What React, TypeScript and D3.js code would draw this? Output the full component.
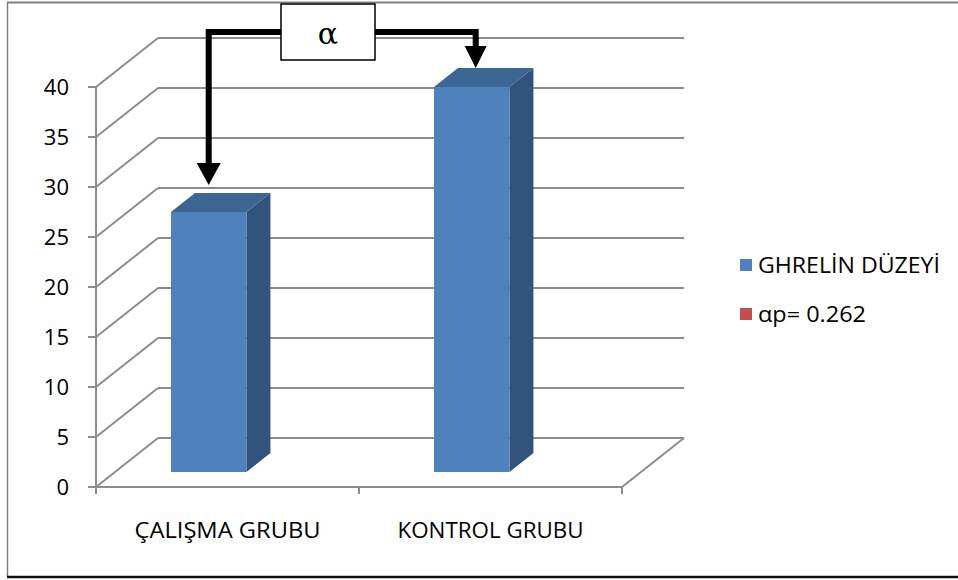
import React from 'react';
import * as d3 from 'd3';

// chart values
const categories = ['ÇALIŞMA GRUBU', 'KONTROL GRUBU'];
const ghrelinValues = [26, 38.5];
const yTicks = [0, 5, 10, 15, 20, 25, 30, 35, 40];
const legendLabels = ['GHRELİN DÜZEYİ', 'αp= 0.262'];
const legendColors = ['#4F81BD', '#C0504D'];
const annotationLabel = 'α';

const W = 958;
const H = 580;

// front plane of the plot
const x0 = 96, x1 = 622;
const y0 = 487, y1 = 87;
// depth of the floor / walls
const depthX = 62, depthY = -49;
// bar front plane offset & bar depth
const barLiftY = -15;
const barDX = 24, barDY = -19;

const x = d3.scaleBand<string>().domain(categories).range([x0, x1]);
const y = d3.scaleLinear().domain([0, 40]).range([y0, y1]);

const gridColor = '#8C8C8C';
const font = 'Open Sans, Noto Sans, sans-serif';

const App = () => {
  const bw = x.bandwidth();
  const bars = categories.map((c, i) => {
    const left = (x(c) as number) + bw * 0.285;
    const width = bw * 0.287;
    const top = y(ghrelinValues[i]) + barLiftY;
    const bottom = y(0) + barLiftY;
    return { c, left, width, top, bottom, cx: left + width / 2 };
  });

  const b1 = bars[0];
  const b2 = bars[1];
  const lineY = 32;
  const boxL = 281, boxR = 375, boxT = 4, boxB = 60;
  const tip1 = b1.top + barDY - 8;
  const tip2 = b2.top + barDY;
  const head = 22;

  return (
    <svg width={W} height={H} style={{ position: 'absolute', left: 0, top: 0 }}>
      <rect x={0} y={0} width={W} height={H} fill="#fff" />
      {/* outer border */}
      <line x1={7.5} y1={2} x2={7.5} y2={577} stroke="#7f7f7f" strokeWidth={1.5} />
      <line x1={7} y1={2.5} x2={W} y2={2.5} stroke="#7f7f7f" strokeWidth={2} />
      <line x1={7} y1={577} x2={W} y2={577} stroke="#111" strokeWidth={2.5} />

      {/* back wall gridlines and side wall diagonals */}
      {yTicks.map(t => (
        <g key={t}>
          <line x1={x0} y1={y(t)} x2={x0 + depthX} y2={y(t) + depthY} stroke={gridColor} strokeWidth={2} />
          <line x1={x0 + depthX} y1={y(t) + depthY} x2={x1 + depthX} y2={y(t) + depthY} stroke={gridColor} strokeWidth={2} />
          <line x1={x0 - 8} y1={y(t)} x2={x0} y2={y(t)} stroke={gridColor} strokeWidth={2} />
          <text x={x0 - 27} y={y(t) + 8} textAnchor="end" fontFamily={font} fontSize={22} fill="#000">{t}</text>
        </g>
      ))}
      {/* left axis */}
      <line x1={x0} y1={y(40)} x2={x0} y2={y0} stroke={gridColor} strokeWidth={2} />
      {/* floor */}
      <line x1={x0} y1={y0} x2={x1} y2={y0} stroke={gridColor} strokeWidth={2} />
      <line x1={x1} y1={y0} x2={x1 + depthX} y2={y0 + depthY} stroke={gridColor} strokeWidth={2} />
      {[x0, x0 + bw, x1].map((tx, i) => (
        <line key={i} x1={tx} y1={y0} x2={tx} y2={y0 + 7} stroke={gridColor} strokeWidth={2} />
      ))}
      {categories.map(c => (
        <text key={c} x={(x(c) as number) + bw / 2} y={538} textAnchor="middle" fontFamily={font} fontSize={21}
          textLength={186} lengthAdjust="spacingAndGlyphs" fill="#000">{c}</text>
      ))}

      {/* 3D bars */}
      {bars.map(b => (
        <g key={b.c}>
          <polygon
            points={`${b.left},${b.top} ${b.left + barDX},${b.top + barDY} ${b.left + b.width + barDX},${b.top + barDY} ${b.left + b.width},${b.top}`}
            fill="#3C6693"
          />
          <polygon
            points={`${b.left + b.width},${b.top} ${b.left + b.width + barDX},${b.top + barDY} ${b.left + b.width + barDX},${b.bottom + barDY} ${b.left + b.width},${b.bottom}`}
            fill="#31537C"
          />
          <rect x={b.left} y={b.top} width={b.width} height={b.bottom - b.top} fill="#4F81BD" />
        </g>
      ))}

      {/* annotation arrows */}
      <g stroke="#000" strokeWidth={6} fill="none">
        <polyline points={`${boxL},${lineY} ${b1.cx},${lineY} ${b1.cx},${tip1 - head + 1}`} />
        <polyline points={`${boxR},${lineY} ${b2.cx + 4},${lineY} ${b2.cx + 4},${tip2 - head + 1}`} />
      </g>
      <polygon points={`${b1.cx - 12},${tip1 - head} ${b1.cx + 12},${tip1 - head} ${b1.cx},${tip1}`} fill="#000" />
      <polygon points={`${b2.cx + 4 - 11},${tip2 - head} ${b2.cx + 4 + 11},${tip2 - head} ${b2.cx + 4},${tip2}`} fill="#000" />
      <rect x={boxL} y={boxT} width={boxR - boxL} height={boxB - boxT} fill="#fff" stroke="#000" strokeWidth={1.5} />
      <text x={(boxL + boxR) / 2} y={44} textAnchor="middle" fontFamily="DejaVu Serif, Liberation Serif, serif" fontSize={30} fill="#000">{annotationLabel}</text>

      {/* legend */}
      {legendLabels.map((l, i) => (
        <g key={l}>
          <rect x={740} y={259 + i * 49} width={12} height={12} fill={legendColors[i]} />
          <text x={758} y={273 + i * 49} fontFamily={font} fontSize={21}
            textLength={i === 0 ? 182 : 108} lengthAdjust="spacingAndGlyphs" fill="#000">{l}</text>
        </g>
      ))}
    </svg>
  );
};

export default App;
